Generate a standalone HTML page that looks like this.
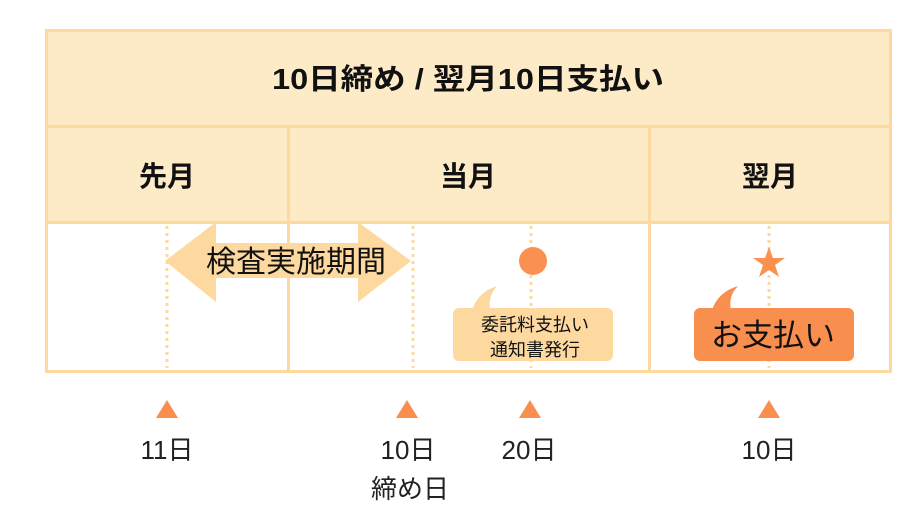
<!DOCTYPE html>
<html><head><meta charset="utf-8"><style>
body{margin:0;background:#fff;width:915px;height:526px;overflow:hidden}
svg{display:block}
text{font-family:"Liberation Sans","Noto Sans CJK JP",sans-serif}
</style></head><body>
<svg width="915" height="526" viewBox="0 0 915 526">
<rect x="46.5" y="30.5" width="844" height="341" fill="#fff" stroke="#fdd9a0" stroke-width="3"/>
<rect x="46.5" y="30.5" width="844" height="192" fill="#fdebc8" stroke="#fdd9a0" stroke-width="3"/>
<line x1="46" y1="126.5" x2="891" y2="126.5" stroke="#fdd9a0" stroke-width="3"/>
<line x1="288.5" y1="126" x2="288.5" y2="371" stroke="#fdd9a0" stroke-width="3"/>
<line x1="649.5" y1="126" x2="649.5" y2="371" stroke="#fdd9a0" stroke-width="3"/>
<text x="272" y="89" font-size="29" font-weight="bold" fill="#111" textLength="392" lengthAdjust="spacingAndGlyphs">10日締め / 翌月10日支払い</text>
<text x="167" y="186" font-size="28" font-weight="bold" text-anchor="middle" fill="#111">先月</text>
<text x="468" y="186" font-size="28" font-weight="bold" text-anchor="middle" fill="#111">当月</text>
<text x="770" y="186" font-size="28" font-weight="bold" text-anchor="middle" fill="#111">翌月</text>
<g stroke="#fdd9a0" stroke-width="3" stroke-dasharray="3 4">
<line x1="167" y1="226" x2="167" y2="368"/><line x1="413" y1="226" x2="413" y2="368"/>
<line x1="531" y1="226" x2="531" y2="368"/><line x1="769" y1="226" x2="769" y2="368"/>
</g>
<polygon points="165,261 216,222 216,243 358,243 358,222 411,261 358,302 358,278 216,278 216,302" fill="#fdd9a0"/>
<text x="296" y="272" font-size="30" text-anchor="middle" fill="#111">検査実施期間</text>
<circle cx="533" cy="261" r="14" fill="#fa9150"/>
<path d="M472,310 Q478,292 497,286 Q488,296 490,310 Z" fill="#fdd9a0"/>
<rect x="453" y="308" width="160" height="53" rx="6" fill="#fdd9a0"/>
<text x="535" y="331" font-size="18" text-anchor="middle" fill="#111">委託料支払い</text>
<text x="535" y="356" font-size="18" text-anchor="middle" fill="#111">通知書発行</text>
<polygon points="769,247 773,258 785,258 775,265 779,277 769,270 759,277 763,265 753,258 765,258" fill="#fa9150"/>
<path d="M712,310 Q718,292 738,286 Q728,296 731,310 Z" fill="#f98f4f"/>
<rect x="694" y="308" width="160" height="53" rx="6" fill="#f98f4f"/>
<text x="773" y="346" font-size="31" text-anchor="middle" fill="#111">お支払い</text>
<g fill="#f98f4f">
<polygon points="167,400 156,418 178,418"/><polygon points="407,400 396,418 418,418"/>
<polygon points="530,400 519,418 541,418"/><polygon points="769,400 758,418 780,418"/>
</g>
<g font-size="26" text-anchor="middle" fill="#222">
<text x="167" y="459">11日</text><text x="408" y="459">10日</text>
<text x="410" y="498">締め日</text><text x="529" y="459">20日</text><text x="769" y="459">10日</text>
</g>
</svg>
</body></html>
